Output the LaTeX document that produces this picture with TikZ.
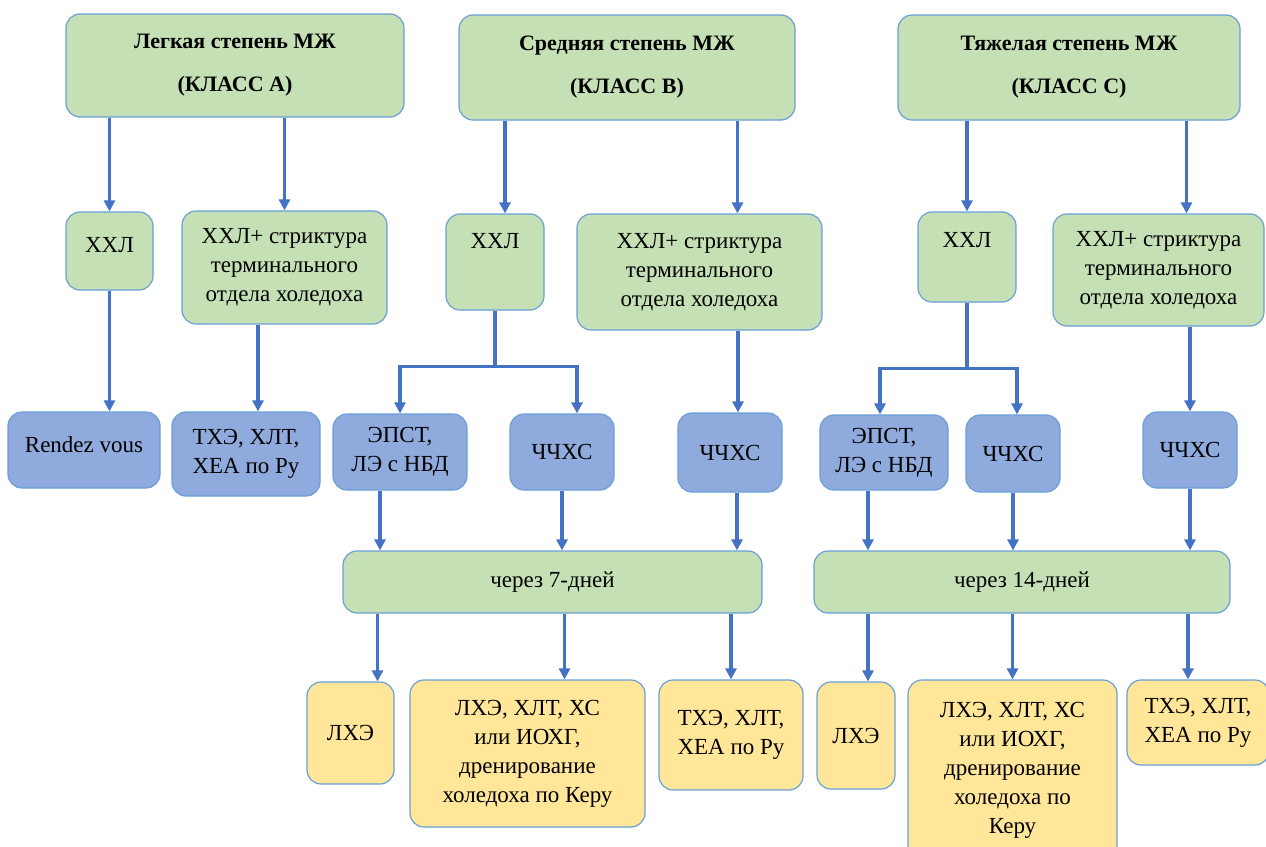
\documentclass[tikz,border=0pt]{standalone}
\usepackage{fontspec}
\setmainfont{LiberationSerif}[Extension=.ttf, UprightFont=*-Regular, BoldFont=*-Bold]
\usetikzlibrary{arrows.meta}

\definecolor{boxgreen}{HTML}{C5E0B4}
\definecolor{boxblue}{HTML}{8FAADC}
\definecolor{boxyellow}{HTML}{FFE699}
\definecolor{edgeblue}{HTML}{6A9FD8}
\definecolor{arrowblue}{HTML}{4472C4}

\begin{document}
\begin{tikzpicture}[x=1pt, y=-1pt,
    box/.style = {draw=edgeblue, line width=1.2pt, rounded corners=14pt, align=center,
                  font=\fontsize{23}{29}\selectfont, inner sep=2pt},
    grn/.style = {box, fill=boxgreen},
    blu/.style = {box, fill=boxblue},
    ylw/.style = {box, fill=boxyellow},
    title/.style = {grn, font=\fontsize{22}{29}\selectfont\bfseries},
    arr/.style = {draw=arrowblue, line width=3.2pt, -{Triangle[length=11pt,width=11pt]}}]
    \useasboundingbox (0,0) rectangle (1266,846);

    % classes
    \node[title, minimum width=338, minimum height=103] (KLA) at (235,65.5) {Легкая степень МЖ\\[14pt](КЛАСС А)};
    \node[title, minimum width=336, minimum height=105] (KLB) at (627,67.5) {Средняя степень МЖ\\[14pt](КЛАСС В)};
    \node[title, minimum width=342, minimum height=105] (KLC) at (1069,67.5) {Тяжелая степень МЖ\\[14pt](КЛАСС С)};

    % second row
    \node[grn, minimum width=87, inner ysep=0pt, text height=40pt, text depth=38pt] (HHLA) at (109.5,251) {ХХЛ};
    \node[grn, minimum width=205, minimum height=113] (STRA) at (284.5,267.5) {ХХЛ+ стриктура\\терминального\\отдела холедоха};
    \node[grn, minimum width=98, inner ysep=0pt, text height=34pt, text depth=62pt] (HHLB) at (495,262) {ХХЛ};
    \node[grn, minimum width=245, minimum height=116] (STRB) at (699.5,272) {ХХЛ+ стриктура\\терминального\\отдела холедоха};
    \node[grn, minimum width=98, inner ysep=0pt, text height=35pt, text depth=55pt] (HHLC) at (967,257) {ХХЛ};
    \node[grn, minimum width=211, minimum height=112] (STRC) at (1158.5,270) {ХХЛ+ стриктура\\терминального\\отдела холедоха};

    % third row
    \node[blu, minimum width=152, inner ysep=0pt, text height=40pt, text depth=36pt] (RDV) at (84,450) {Rendez vous};
    \node[blu, minimum width=148, minimum height=84] (TXEA) at (246,454) {ТХЭ, ХЛТ,\\ХЕА по Ру};
    \node[blu, minimum width=134, minimum height=76] (EPSTB) at (400,452) {ЭПСТ,\\ЛЭ с НБД};
    \node[blu, minimum width=104, minimum height=76] (CHB) at (562,452) {ЧЧХС};
    \node[blu, minimum width=104, minimum height=79] (CHB2) at (730,452.5) {ЧЧХС};
    \node[blu, minimum width=128, minimum height=75] (EPSTC) at (884,452.5) {ЭПСТ,\\ЛЭ с НБД};
    \node[blu, minimum width=94, minimum height=77] (CHC) at (1013,453.5) {ЧЧХС};
    \node[blu, minimum width=94, minimum height=76] (CHC2) at (1190,450) {ЧЧХС};

    % waiting
    \node[grn, minimum width=419, minimum height=62] (D7) at (552.5,582) {через 7-дней};
    \node[grn, minimum width=416, minimum height=62] (D14) at (1022,582) {через 14-дней};

    % outcomes
    \node[ylw, minimum width=87, minimum height=102] (LHEB) at (350.5,733) {ЛХЭ};
    \node[ylw, minimum width=235, minimum height=147] (BIGB) at (527.5,753.5) {ЛХЭ, ХЛТ, ХС\\или ИОХГ,\\дренирование\\холедоха по Керу};
    \node[ylw, minimum width=144, minimum height=110] (TXEB) at (731,735) {ТХЭ, ХЛТ,\\ХЕА по Ру};
    \node[ylw, minimum width=78, minimum height=107] (LHEC) at (856,735.5) {ЛХЭ};
    \node[ylw, minimum width=209, minimum height=180] (BIGC) at (1012.5,770) {ЛХЭ, ХЛТ, ХС\\или ИОХГ,\\дренирование\\холедоха по\\Керу};
    \node[ylw, minimum width=142, minimum height=85] (TXEC) at (1198,722.5) {ТХЭ, ХЛТ,\\ХЕА по Ру};

    % arrow ends off centre
    \coordinate (b1) at ([xshift=10pt]HHLB.north);
    \coordinate (b2) at ([xshift=38pt]STRB.north);
    \coordinate (c2) at ([xshift=28pt]STRC.north);
    \coordinate (a3) at ([xshift=12pt]TXEA.north);
    \coordinate (b3) at ([xshift=15pt]CHB.north);
    \coordinate (b4) at ([xshift=8pt]CHB2.north);
    \coordinate (c3) at ([xshift=4pt]CHC.north);
    \coordinate (b5) at ([xshift=-20pt]EPSTB.south);
    \coordinate (c5) at ([xshift=-16pt]EPSTC.south);
    \coordinate (b6) at ([xshift=27pt]LHEB.north);
    \coordinate (b7) at ([xshift=37pt]BIGB.north);
    \coordinate (c6) at ([xshift=12pt]LHEC.north);
    \coordinate (c7) at ([xshift=-10pt]TXEC.north);

    % class A
    \draw[arr] (KLA.south -| HHLA.north) -- (HHLA.north);
    \draw[arr] (KLA.south -| STRA.north) -- (STRA.north);
    \draw[arr] (HHLA.south) -- (HHLA.south |- RDV.north);
    \draw[arr] (STRA.south -| a3) -- (a3);

    % class B
    \draw[arr] (KLB.south -| b1) -- (b1);
    \draw[arr] (KLB.south -| b2) -- (b2);
    \draw[arr] (HHLB.south) -- ++(0,56) -| (EPSTB.north);
    \draw[arr] (HHLB.south) -- ++(0,56) -| (b3);
    \draw[arr] (STRB.south -| b4) -- (b4);
    \draw[arr] (b5) -- (b5 |- D7.north);
    \draw[arr] (CHB.south) -- (CHB.south |- D7.north);
    \draw[arr] ([xshift=7pt]CHB2.south) -- ([xshift=7pt]CHB2.south |- D7.north);
    \draw[arr] (D7.south -| b6) -- (b6);
    \draw[arr] (D7.south -| b7) -- (b7);
    \draw[arr] (D7.south -| TXEB.north) -- (TXEB.north);

    % class C
    \draw[arr] (KLC.south -| HHLC.north) -- (HHLC.north);
    \draw[arr] (KLC.south -| c2) -- (c2);
    \draw[arr] (HHLC.south) -- ++(0,66) -| ([xshift=-4pt]EPSTC.north);
    \draw[arr] (HHLC.south) -- ++(0,66) -| (c3);
    \draw[arr] (STRC.south -| CHC2.north) -- (CHC2.north);
    \draw[arr] (c5) -- (c5 |- D14.north);
    \draw[arr] (CHC.south) -- (CHC.south |- D14.north);
    \draw[arr] (CHC2.south) -- (CHC2.south |- D14.north);
    \draw[arr] (D14.south -| c6) -- (c6);
    \draw[arr] (D14.south -| BIGC.north) -- (BIGC.north);
    \draw[arr] (D14.south -| c7) -- (c7);
\end{tikzpicture}
\end{document}
